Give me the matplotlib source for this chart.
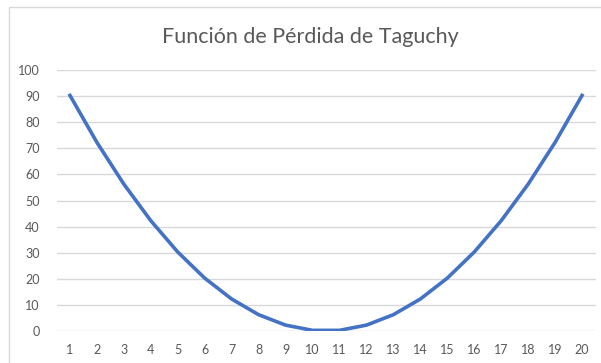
import matplotlib.pyplot as plt
from matplotlib.patches import Rectangle

# Datos de la curva de pérdida
muestras = list(range(1, 21))
perdida = [90.25, 72.25, 56.25, 42.25, 30.25, 20.25, 12.25, 6.25, 2.25, 0.25,
           0.25, 2.25, 6.25, 12.25, 20.25, 30.25, 42.25, 56.25, 72.25, 90.25]
ticks_y = [0, 10, 20, 30, 40, 50, 60, 70, 80, 90, 100]

plt.rcParams['font.family'] = ['Lato', 'DejaVu Sans']

fig = plt.figure(figsize=(6.01, 3.63), dpi=100)
W, H = 601, 363

# Marco del gráfico
fig.patches.append(Rectangle((9 / W, -0.1), 1.2, 1 - 7 / H + 0.1,
                             transform=fig.transFigure, fill=False,
                             edgecolor='#d9d9d9', linewidth=1))

ax = fig.add_axes([56.5 / W, 1 - 331 / H, (595.5 - 56.5) / W, (331 - 70) / H])
ax.plot(muestras, perdida, color='#4472C4', linewidth=2.6, solid_joinstyle='round')

ax.set_xlim(0.5, 20.5)
ax.set_ylim(0, 100)
ax.set_xticks(muestras)
ax.set_yticks(ticks_y)
ax.grid(axis='y', color='#d9d9d9', linewidth=1)
ax.set_axisbelow(True)
for s in ax.spines.values():
    s.set_visible(False)
ax.tick_params(length=0, labelsize=9, colors='#595959')
ax.tick_params(axis='y', pad=12)
ax.tick_params(axis='x', pad=9)

fig.text(310 / W, 1 - 37 / H, 'Función de Pérdida de Taguchy', ha='center', va='center',
         fontsize=15.5, color='#595959')

fig.savefig('out.png', dpi=100)
